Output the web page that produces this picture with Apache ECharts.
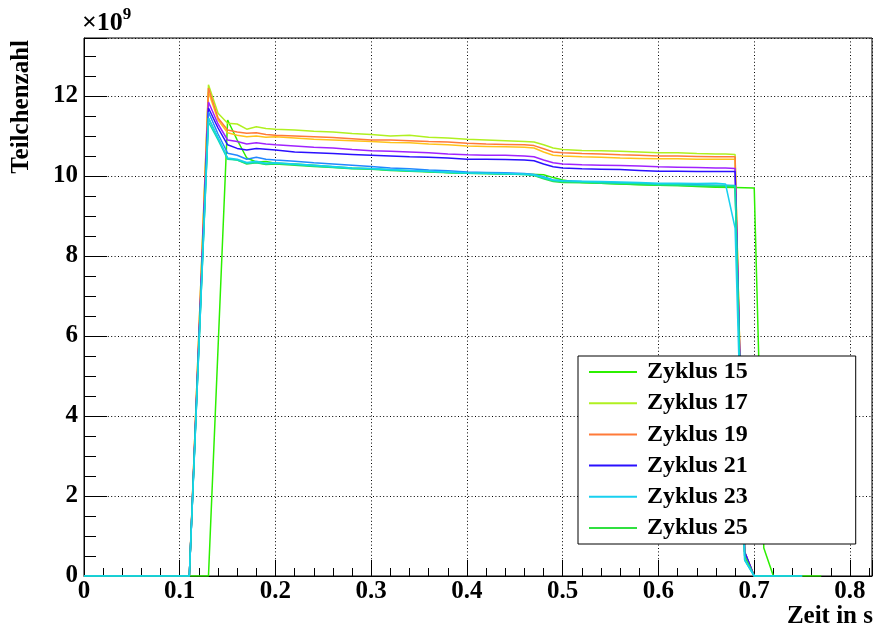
<!DOCTYPE html>
<html>
<head>
<meta charset="utf-8">
<script src="https://cdn.jsdelivr.net/npm/echarts@6/dist/echarts.min.js"></script>
<style>html,body{margin:0;padding:0;background:#fff}#c{width:876px;height:635px}</style>
</head>
<body>
<div id="c"></div>
<script>
// Time samples (s) shared by cycles 17..25
var timeMain = [0, 0.11, 0.12, 0.13, 0.14, 0.15, 0.16, 0.17, 0.18, 0.19, 0.20, 0.22, 0.24, 0.26, 0.28, 0.30, 0.32, 0.34, 0.36, 0.38, 0.40, 0.42, 0.44, 0.46, 0.47, 0.48, 0.49, 0.50, 0.52, 0.54, 0.56, 0.58, 0.60, 0.62, 0.64, 0.66, 0.67, 0.68, 0.69, 0.70, 0.75];
// Cycle 15 is delayed by about 0.02 s
var time15 = [0, 0.13, 0.14, 0.15, 0.16, 0.17, 0.18, 0.19, 0.20, 0.22, 0.24, 0.26, 0.28, 0.30, 0.32, 0.34, 0.36, 0.38, 0.40, 0.42, 0.44, 0.46, 0.48, 0.49, 0.50, 0.51, 0.52, 0.54, 0.56, 0.58, 0.60, 0.62, 0.64, 0.66, 0.68, 0.70, 0.71, 0.72, 0.77];

// Particle counts in units of 1e9
var zyklus15 = [0, 0, 5.7, 11.4, 10.9, 10.45, 10.35, 10.36, 10.32, 10.3, 10.27, 10.23, 10.2, 10.18, 10.15, 10.13, 10.11, 10.09, 10.07, 10.06, 10.05, 10.05, 10.03, 9.96, 9.9, 9.86, 9.84, 9.82, 9.8, 9.78, 9.77, 9.76, 9.74, 9.72, 9.71, 9.7, 0.7, 0, 0];
var zyklus17 = [0, 0, 6.1, 12.28, 11.57, 11.32, 11.3, 11.17, 11.23, 11.19, 11.17, 11.15, 11.12, 11.1, 11.06, 11.04, 11.0, 11.02, 10.97, 10.95, 10.92, 10.9, 10.88, 10.86, 10.85, 10.78, 10.7, 10.66, 10.64, 10.63, 10.62, 10.6, 10.58, 10.58, 10.56, 10.55, 10.55, 10.54, 0.6, 0, 0];
var zyklus18 = [0, 0, 6.0, 12.1, 11.4, 11.08, 11.02, 10.98, 11.0, 10.97, 10.98, 10.95, 10.92, 10.9, 10.88, 10.86, 10.84, 10.83, 10.8, 10.78, 10.75, 10.74, 10.73, 10.72, 10.7, 10.6, 10.52, 10.5, 10.48, 10.47, 10.45, 10.44, 10.43, 10.43, 10.42, 10.42, 10.42, 10.42, 0.6, 0, 0];
var zyklus19 = [0, 0, 6.1, 12.2, 11.45, 11.15, 11.1, 11.07, 11.08, 11.04, 11.02, 11.0, 10.98, 10.96, 10.93, 10.9, 10.9, 10.88, 10.86, 10.85, 10.82, 10.8, 10.79, 10.78, 10.76, 10.68, 10.6, 10.58, 10.56, 10.55, 10.53, 10.52, 10.5, 10.5, 10.49, 10.48, 10.48, 10.48, 0.6, 0, 0];
var zyklus20 = [0, 0, 5.9, 11.85, 11.3, 10.9, 10.86, 10.8, 10.83, 10.8, 10.78, 10.75, 10.72, 10.7, 10.66, 10.63, 10.62, 10.6, 10.58, 10.55, 10.53, 10.52, 10.52, 10.5, 10.48, 10.4, 10.33, 10.3, 10.28, 10.27, 10.26, 10.25, 10.23, 10.22, 10.21, 10.2, 10.2, 10.19, 0.6, 0, 0];
var zyklus21 = [0, 0, 5.85, 11.7, 11.2, 10.78, 10.69, 10.65, 10.69, 10.67, 10.65, 10.6, 10.58, 10.56, 10.54, 10.52, 10.5, 10.48, 10.47, 10.45, 10.42, 10.42, 10.41, 10.4, 10.38, 10.3, 10.23, 10.2, 10.18, 10.17, 10.16, 10.14, 10.12, 10.12, 10.11, 10.11, 10.11, 10.11, 0.6, 0, 0];
var zyklus22 = [0, 0, 5.8, 11.6, 11.05, 10.57, 10.52, 10.42, 10.47, 10.42, 10.4, 10.37, 10.33, 10.3, 10.27, 10.24, 10.2, 10.18, 10.15, 10.13, 10.1, 10.09, 10.08, 10.06, 10.04, 9.98, 9.9, 9.88, 9.86, 9.85, 9.83, 9.82, 9.8, 9.79, 9.78, 9.77, 9.77, 9.76, 0.5, 0, 0];
var zyklus23 = [0, 0, 5.7, 11.45, 10.95, 10.45, 10.42, 10.34, 10.37, 10.32, 10.33, 10.3, 10.27, 10.24, 10.2, 10.19, 10.16, 10.14, 10.12, 10.1, 10.08, 10.07, 10.06, 10.05, 10.03, 9.97, 9.9, 9.88, 9.87, 9.86, 9.85, 9.84, 9.82, 9.82, 9.81, 9.82, 9.8, 8.7, 0.4, 0, 0];
var zyklus24 = [0, 0, 5.7, 11.35, 10.9, 10.42, 10.4, 10.32, 10.34, 10.3, 10.32, 10.29, 10.25, 10.22, 10.19, 10.18, 10.15, 10.13, 10.11, 10.09, 10.07, 10.06, 10.05, 10.04, 10.02, 9.95, 9.88, 9.86, 9.85, 9.83, 9.82, 9.81, 9.79, 9.78, 9.77, 9.76, 9.76, 9.75, 0.4, 0, 0];
var zyklus25 = [0, 0, 5.75, 11.45, 10.95, 10.44, 10.4, 10.3, 10.33, 10.29, 10.3, 10.27, 10.24, 10.21, 10.18, 10.17, 10.14, 10.12, 10.1, 10.08, 10.07, 10.06, 10.05, 10.04, 10.01, 9.93, 9.86, 9.84, 9.83, 9.82, 9.8, 9.79, 9.77, 9.76, 9.75, 9.74, 9.74, 9.74, 0.5, 0, 0];

var legendNames = ['Zyklus 15', 'Zyklus 17', 'Zyklus 19', 'Zyklus 21', 'Zyklus 23', 'Zyklus 25'];
var xTickLabels = ['0', '0.1', '0.2', '0.3', '0.4', '0.5', '0.6', '0.7', '0.8'];
var yTickLabels = ['0', '2', '4', '6', '8', '10', '12'];

function pairs(xs, ys) { return xs.map(function (x, i) { return [x, ys[i]]; }); }

var seriesDefs = [
  { name: 'Zyklus 15', x: time15, y: zyklus15, color: '#2cf000' },
  { name: 'Zyklus 17', x: timeMain, y: zyklus17, color: '#b0f020' },
  { name: 'Zyklus 18', x: timeMain, y: zyklus18, color: '#ffc21a' },
  { name: 'Zyklus 19', x: timeMain, y: zyklus19, color: '#ff7a38' },
  { name: 'Zyklus 20', x: timeMain, y: zyklus20, color: '#a022ff' },
  { name: 'Zyklus 21', x: timeMain, y: zyklus21, color: '#2a10ff' },
  { name: 'Zyklus 22', x: timeMain, y: zyklus22, color: '#2288ff' },
  { name: 'Zyklus 25', x: timeMain, y: zyklus25, color: '#30e040' },
  { name: 'Zyklus 24', x: timeMain, y: zyklus24, color: '#10e0b0' },
  { name: 'Zyklus 23', x: timeMain, y: zyklus23, color: '#18d0f0' }
];

var FONT = '"Liberation Serif", "Times New Roman", serif';

function isMultiple(v, step) {
  var r = v / step;
  return Math.abs(r - Math.round(r)) < 1e-6;
}

var chart = echarts.init(document.getElementById('c'), null, { renderer: 'canvas' });
chart.setOption({
  animation: false,
  backgroundColor: '#fff',
  grid: { left: 84, right: 4, top: 38, bottom: 59, show: true, borderColor: '#000', borderWidth: 1, backgroundColor: 'transparent' },
  xAxis: {
    type: 'value', min: 0, max: 0.823, interval: 0.1,
    axisLine: { show: true, onZero: false, lineStyle: { color: '#000', width: 1 } },
    axisTick: { show: true, inside: true, length: 16, lineStyle: { color: '#000', width: 1 } },
    minorTick: { show: true, splitNumber: 5, length: 8, lineStyle: { color: '#000', width: 1 } },
    splitLine: { show: true, lineStyle: { color: '#000', width: 1, type: [1, 2.4] } },
    axisLabel: {
      color: '#000', fontFamily: FONT, fontWeight: 'bold', fontSize: 25, margin: 3,
      formatter: function (v) {
        if (!isMultiple(v, 0.1)) return '';
        return xTickLabels[Math.round(v * 10)] || '';
      }
    }
  },
  yAxis: {
    type: 'value', min: 0, max: 13.45, interval: 2,
    axisLine: { show: true, onZero: false, lineStyle: { color: '#000', width: 1 } },
    axisTick: { show: true, inside: true, length: 23, lineStyle: { color: '#000', width: 1 } },
    minorTick: { show: true, splitNumber: 4, length: 12, lineStyle: { color: '#000', width: 1 } },
    splitLine: { show: true, lineStyle: { color: '#000', width: 1, type: [1, 2.4] } },
    axisLabel: {
      color: '#000', fontFamily: FONT, fontWeight: 'bold', fontSize: 25, margin: 6,
      formatter: function (v) {
        if (!isMultiple(v, 2)) return '';
        return yTickLabels[Math.round(v / 2)] || '';
      }
    }
  },
  legend: {
    data: legendNames,
    orient: 'vertical',
    left: 578, top: 356,
    padding: [4, 108, 4, 11],
    itemWidth: 48, itemHeight: 14, itemGap: 7.2,
    backgroundColor: '#fff',
    borderColor: '#000', borderWidth: 1,
    selectedMode: false,
    icon: 'path://M0,6 L48,6 L48,8 L0,8 Z',
    textStyle: { color: '#000', fontFamily: FONT, fontWeight: 'bold', fontSize: 24, lineHeight: 24, padding: [0, 0, 0, 5] }
  },
  series: seriesDefs.map(function (d) {
    return {
      name: d.name, type: 'line', data: pairs(d.x, d.y),
      showSymbol: false, symbol: 'none', smooth: false,
      lineStyle: { color: d.color, width: 1.5 },
      itemStyle: { color: d.color },
      emphasis: { disabled: true }
    };
  }),
  graphic: [
    {
      type: 'text', x: 82, y: 6,
      style: {
        text: '{a|×10}{b|9}',
        rich: {
          a: { fontFamily: FONT, fontSize: 26, fontWeight: 'bold', fill: '#000', verticalAlign: 'bottom', lineHeight: 30 },
          b: { fontFamily: FONT, fontSize: 17, fontWeight: 'bold', fill: '#000', verticalAlign: 'top', lineHeight: 30 }
        }
      }
    },
    {
      type: 'text', x: 22, y: 40, rotation: Math.PI / 2,
      style: { text: 'Teilchenzahl', fontFamily: FONT, fontWeight: 'bold', fontSize: 25, fill: '#000', align: 'right', verticalAlign: 'middle' }
    },
    {
      type: 'text', x: 873, y: 617,
      style: { text: 'Zeit in s', fontFamily: FONT, fontWeight: 'bold', fontSize: 25, fill: '#000', align: 'right', verticalAlign: 'middle' }
    }
  ]
});
</script>
</body>
</html>
